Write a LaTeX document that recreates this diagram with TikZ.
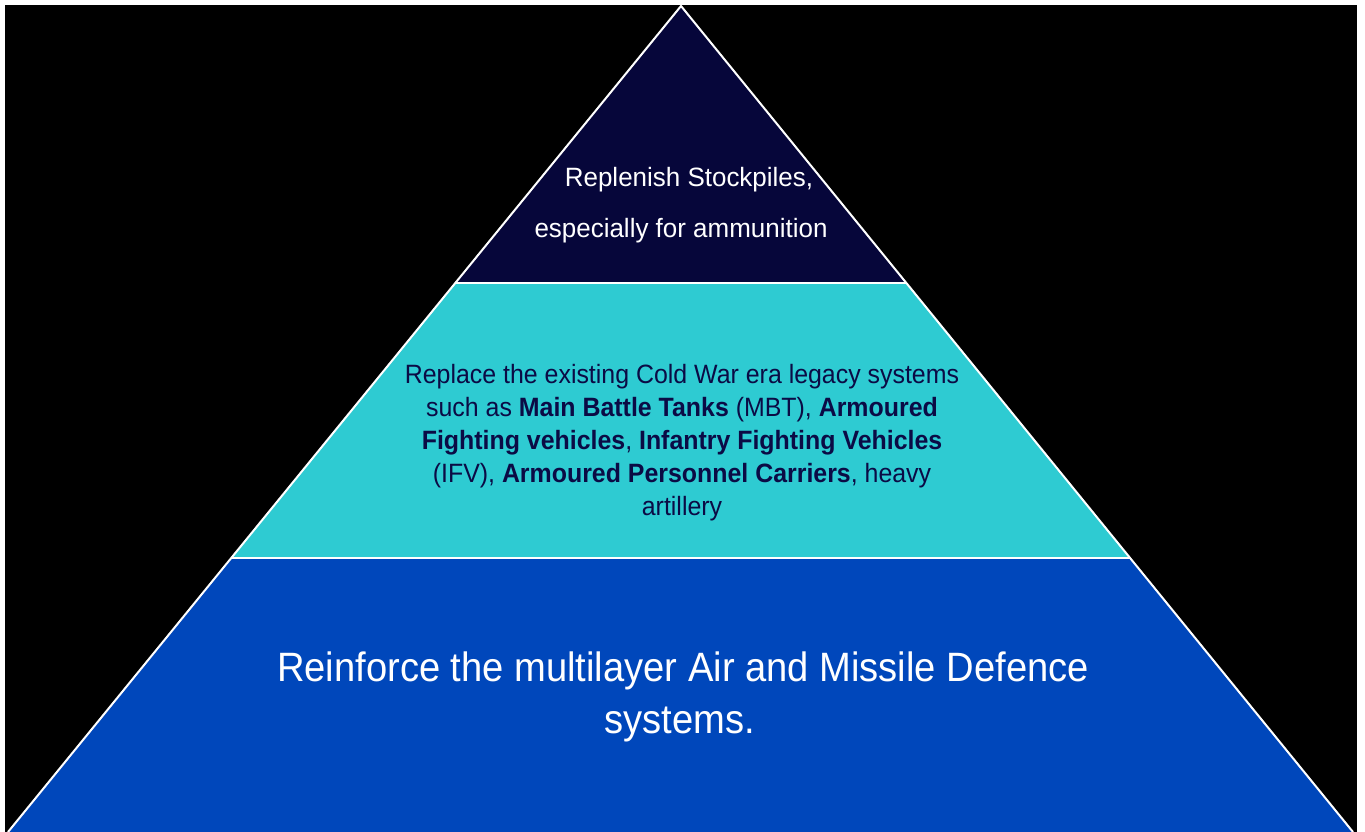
\documentclass[tikz,border=0pt]{standalone}
\usepackage{fontspec}
\setmainfont{Liberation Sans}
\newfontfamily\topfont[FakeStretch=0.98]{Liberation Sans}
\newfontfamily\midfont[FakeStretch=0.94]{Liberation Sans}
\newfontfamily\botfont[FakeStretch=0.93]{Liberation Sans}
\usetikzlibrary{calc}
\definecolor{navy}{HTML}{06063A}
\definecolor{turq}{HTML}{2ECBD2}
\definecolor{royal}{HTML}{0047BB}
\definecolor{midtext}{HTML}{0B0B45}
\tikzset{
  edge/.style={draw=white, line width=2pt},
  toptext/.style={anchor=base, inner sep=0pt, text=white, font=\topfont\fontsize{26.5}{30}\selectfont},
  midtext/.style={anchor=base, inner sep=0pt, text=midtext, font=\midfont\fontsize{26.5}{30}\selectfont},
  bottext/.style={anchor=base, inner sep=0pt, text=white, font=\botfont\fontsize{41}{46}\selectfont},
}
\begin{document}
\begin{tikzpicture}[x=1pt,y=-1pt]
\useasboundingbox (0,0) rectangle (1365,832);
\fill[white] (0,0) rectangle (1365,832);
\fill[black] (5,5) rectangle (1357,832);
\coordinate (A) at (681,6);
\coordinate (BL) at (8,832);
\coordinate (BR) at (1353,832);
\coordinate (L1) at ($(A)!0.3354!(BL)$);
\coordinate (R1) at ($(A)!0.3354!(BR)$);
\coordinate (L2) at ($(A)!0.6683!(BL)$);
\coordinate (R2) at ($(A)!0.6683!(BR)$);
\fill[navy] (A) -- (R1) -- (L1) -- cycle;
\fill[turq] (L1) -- (R1) -- (R2) -- (L2) -- cycle;
\fill[royal] (L2) -- (R2) -- (BR) -- (BL) -- cycle;
\draw[edge] (BL) -- (A) -- (BR);
\draw[edge] (L1) -- (R1);
\draw[edge] (L2) -- (R2);
% top tier
\node[toptext] (t1) at (689,186) {Replenish Stockpiles,};
\node[toptext] (t2) at (681,237) {especially for ammunition};
% middle tier
\node[midtext] (m1) at (682,383) {Replace the existing Cold War era legacy systems};
\node[midtext] (m2) at (682,416) {such as \textbf{Main Battle Tanks} (MBT), \textbf{Armoured}};
\node[midtext] (m3) at (682,449) {\textbf{Fighting vehicles}, \textbf{Infantry Fighting Vehicles}};
\node[midtext] (m4) at (682,482) {(IFV), \textbf{Armoured Personnel Carriers}, heavy};
\node[midtext] (m5) at (682,515) {artillery};
% bottom tier
\node[bottext] (b1) at (683,681) {Reinforce the multilayer Air and Missile Defence};
\node[bottext] (b2) at (680,733) {systems.};
\end{tikzpicture}
\end{document}
